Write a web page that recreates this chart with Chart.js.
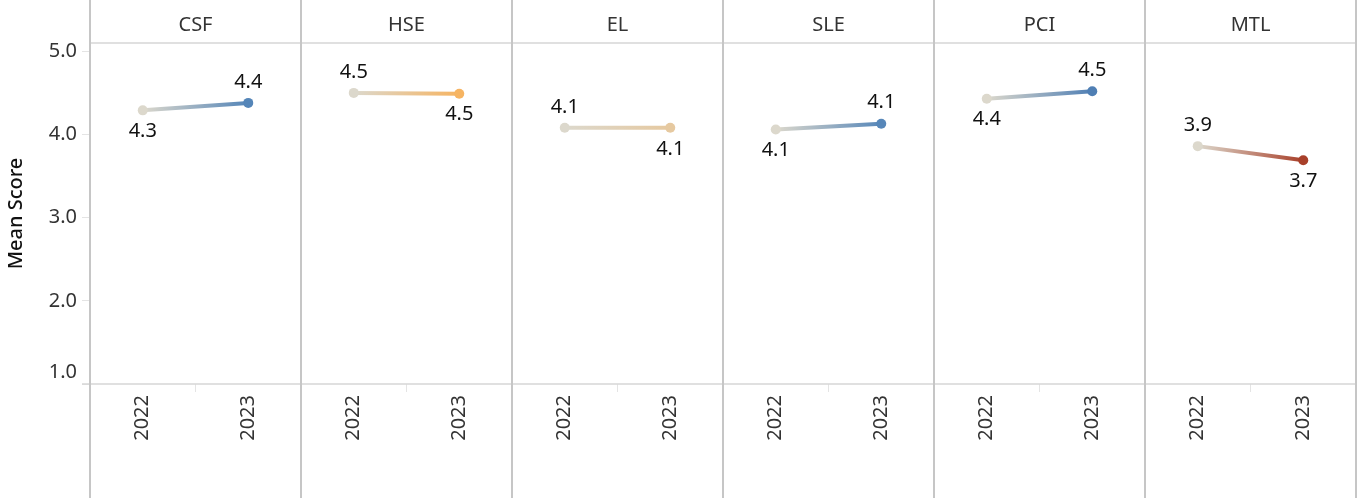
<!DOCTYPE html>
<html lang="en">
<head>
  <meta charset="UTF-8">
  <title>Mean Score by Area, 2022 vs 2023</title>
  <script src="https://cdn.jsdelivr.net/npm/chart.js"></script>
  <style>
    body { margin: 0; background: #fff; }
    #wrap { width: 1361px; height: 498px; }
  </style>
</head>
<body>
  <div id="wrap"><canvas id="scores"></canvas></div>

  <script>
    // DATA
    const panels = ["CSF", "HSE", "EL", "SLE", "PCI", "MTL"];
    const years = ["2022", "2023"];
    const scores2022 = [4.29, 4.50, 4.08, 4.06, 4.43, 3.86];
    const scores2023 = [4.38, 4.49, 4.08, 4.13, 4.52, 3.69];
    const yTicks = [1, 2, 3, 4, 5];

    // colours (start is always the neutral beige, end depends on change)
    const startColor = "#dcd8cc";
    const endColors = ["#5485b8", "#f6b462", "#e6c9a0", "#5787b9", "#4f7fb4", "#a8402a"];

    const FONT = "'Noto Sans', 'Open Sans', sans-serif";
    const lineGray = "#c6c6c6";

    // one category per (panel, year)
    const xLabels = [];
    panels.forEach(() => years.forEach(y => xLabels.push(y)));

    const datasets = panels.map((p, i) => {
      const data = xLabels.map(() => null);
      data[i * 2] = scores2022[i];
      data[i * 2 + 1] = scores2023[i];
      return {
        label: p,
        data: data,
        spanGaps: false,
        borderWidth: 4,
        pointRadius: 5,
        pointHoverRadius: 5,
        pointBorderWidth: 0,
        pointBackgroundColor: data.map((v, k) => k === i * 2 ? startColor : endColors[i]),
        segment: {
          borderColor: ctx => {
            const g = ctx.chart.ctx.createLinearGradient(ctx.p0.x, 0, ctx.p1.x, 0);
            g.addColorStop(0, startColor);
            g.addColorStop(1, endColors[i]);
            return g;
          }
        }
      };
    });

    // panel borders, the shifted "1.0" label and value labels
    const panelPlugin = {
      id: "panels",
      beforeDatasetsDraw(chart) {
        const c = chart.ctx, a = chart.chartArea;
        const top = chart.scales.x2;
        const half = (top.getPixelForValue(1) - top.getPixelForValue(0)) / 2;
        c.save();
        c.strokeStyle = "#d6d6d6";
        c.lineWidth = 1.5;
        c.beginPath();
        c.moveTo(a.left, a.top); c.lineTo(a.right, a.top);
        c.moveTo(a.left - 8, a.bottom); c.lineTo(a.right, a.bottom);
        c.stroke();
        c.strokeStyle = lineGray;
        c.lineWidth = 2;
        c.beginPath();
        for (let k = 0; k <= panels.length; k++) {
          const x = Math.round(top.getPixelForValue(0) - half + k * half * 2);
          c.moveTo(x, 0); c.lineTo(x, chart.height);
        }
        c.stroke();

        const y = chart.scales.y;
        c.fillStyle = "#333";
        c.font = "20px " + FONT;
        c.textAlign = "right";
        c.textBaseline = "middle";
        c.fillText((1).toFixed(1), a.left - 13, y.getPixelForValue(1) - 12);
        c.restore();
      },
      afterDatasetsDraw(chart) {
        const c = chart.ctx;
        c.save();
        c.fillStyle = "#111";
        c.font = "20px " + FONT;
        c.textAlign = "center";
        c.textBaseline = "middle";
        chart.data.datasets.forEach((ds, i) => {
          const pts = chart.getDatasetMeta(i).data;
          const p0 = pts[i * 2], p1 = pts[i * 2 + 1];
          const rising = scores2023[i] > scores2022[i];
          c.fillText(scores2022[i].toFixed(1), p0.x, p0.y + (rising ? 21 : -21));
          c.fillText(scores2023[i].toFixed(1), p1.x, p1.y + (rising ? -21 : 21));
        });
        c.restore();
      }
    };

    new Chart("scores", {
      type: "line",
      data: { labels: xLabels, datasets: datasets },
      plugins: [panelPlugin],
      options: {
        responsive: true,
        maintainAspectRatio: false,
        animation: false,
        layout: { padding: { right: 4 } },
        plugins: {
          legend: { display: false },
          tooltip: { enabled: false }
        },
        scales: {
          x: {
            type: "category",
            position: "bottom",
            offset: true,
            border: { display: false },
            grid: {
              offset: true,
              drawOnChartArea: false,
              tickLength: 8,
              color: c => c.index % 2 ? "#e4e4e4" : "rgba(0,0,0,0)"
            },
            ticks: {
              autoSkip: false,
              minRotation: 90,
              maxRotation: 90,
              padding: 3,
              color: "#333",
              font: { family: FONT, size: 20 }
            },
            afterFit: s => { s.height = 114; }
          },
          x2: {
            type: "category",
            axis: "x",
            position: "top",
            labels: panels,
            offset: true,
            border: { display: false },
            grid: { display: false, drawTicks: false },
            ticks: {
              padding: 6,
              color: "#333",
              font: { family: FONT, size: 20 }
            },
            afterFit: s => { s.height = 43; }
          },
          y: {
            min: 1,
            max: 5.1,
            border: { display: false },
            grid: {
              drawOnChartArea: false,
              tickLength: 8,
              color: "#e4e4e4"
            },
            afterBuildTicks: s => { s.ticks = yTicks.map(v => ({ value: v })); },
            ticks: {
              padding: 5,
              color: "#333",
              font: { family: FONT, size: 20 },
              callback: v => v === 1 ? "" : v.toFixed(1)
            },
            title: {
              display: true,
              text: "Mean Score",
              color: "#111",
              padding: { top: 4, bottom: 0 },
              font: { family: FONT, size: 20, weight: "500" }
            },
            afterFit: s => { s.width = 90; }
          }
        }
      }
    });
  </script>
</body>
</html>
